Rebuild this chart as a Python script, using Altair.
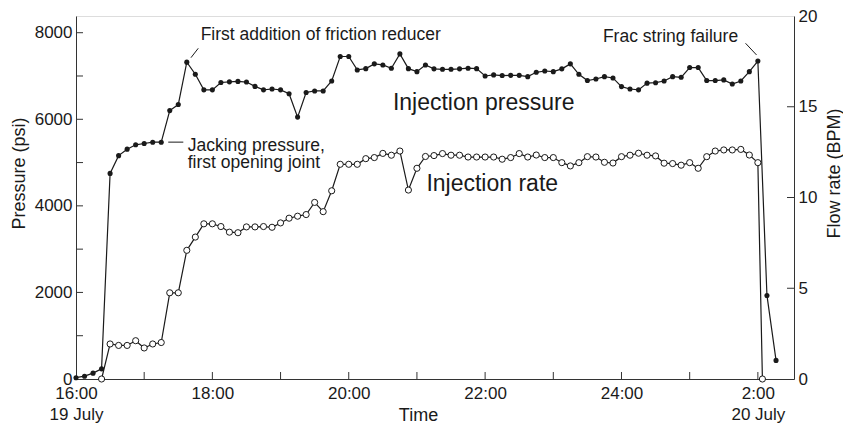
import altair as alt
import pandas as pd

# ---------------- data ----------------
# clock times of the samples (19 July 16:00 -> 20 July 02:16)
p_times = [
    "16:00", "16:07:30", "16:15", "16:22:30", "16:30", "16:37:30", "16:45", "16:52:30",
    "17:00", "17:07:30", "17:15", "17:22:30", "17:30", "17:37:30", "17:45", "17:52:30",
    "18:00", "18:07:30", "18:15", "18:22:30", "18:30", "18:37:30", "18:45", "18:52:30",
    "19:00", "19:07:30", "19:15", "19:22:30", "19:30", "19:37:30", "19:45", "19:52:30",
    "20:00", "20:07:30", "20:15", "20:22:30", "20:30", "20:37:30", "20:45", "20:52:30",
    "21:00", "21:07:30", "21:15", "21:22:30", "21:30", "21:37:30", "21:45", "21:52:30",
    "22:00", "22:07:30", "22:15", "22:22:30", "22:30", "22:37:30", "22:45", "22:52:30",
    "23:00", "23:07:30", "23:15", "23:22:30", "23:30", "23:37:30", "23:45", "23:52:30",
    "00:00", "00:07:30", "00:15", "00:22:30", "00:30", "00:37:30", "00:45", "00:52:30",
    "01:00", "01:07:30", "01:15", "01:22:30", "01:30", "01:37:30", "01:45", "01:52:30",
    "02:00", "02:08", "02:16",
]
# injection pressure (psi)
pressure = [
    30, 65, 135, 235, 4750, 5160, 5310, 5410,
    5440, 5470, 5470, 6200, 6340, 7320, 7040, 6680,
    6680, 6850, 6865, 6875, 6860, 6760, 6680, 6700,
    6680, 6590, 6050, 6620, 6655, 6655, 6885, 7450,
    7450, 7140, 7170, 7280, 7255, 7180, 7510, 7170,
    7100, 7255, 7165, 7155, 7155, 7165, 7180, 7170,
    7000, 7025, 7010, 7015, 7015, 6985, 7085, 7115,
    7100, 7165, 7280, 7040, 6895, 6930, 6985, 6955,
    6755, 6700, 6680, 6835, 6845, 6885, 6985, 6970,
    7195, 7195, 6895, 6895, 6910, 6815, 6885, 7100,
    7345, 1930, 430,
]
r_times = p_times[3:81] + ["02:04"]
# injection rate (BPM)
rate = [
    0, 1.93, 1.85, 1.85, 2.11,
    1.71, 1.93, 2.01, 4.75, 4.75, 7.09, 7.82, 8.55,
    8.55, 8.40, 8.09, 8.06, 8.38, 8.38, 8.40, 8.36,
    8.60, 8.86, 8.97, 9.06, 9.73, 9.22, 10.37, 11.83,
    11.83, 11.83, 12.14, 12.20, 12.43, 12.33, 12.56, 10.41,
    11.61, 12.26, 12.31, 12.42, 12.33, 12.33, 12.23, 12.23,
    12.23, 12.23, 12.11, 12.20, 12.42, 12.23, 12.34, 12.20,
    12.20, 11.92, 11.74, 11.92, 12.25, 12.23, 11.94, 11.90,
    12.25, 12.33, 12.44, 12.33, 12.29, 11.89, 11.87, 11.78,
    11.92, 11.61, 12.25, 12.56, 12.62, 12.62, 12.65, 12.34,
    11.92, 0,
]

x_tick_hours = [16, 17, 18, 19, 20, 21, 22, 23, 24, 25, 26]
left_tick_values = [0, 2000, 4000, 6000, 8000]
left_minor = [1000, 2000, 3000, 4000, 5000, 6000, 7000, 8000]
right_tick_values = [0, 5, 10, 15, 20]
right_minor = [5, 10, 15]

# annotations: text, clock time of anchor, pressure of anchor
ann_text = ["First addition of friction reducer", "Jacking pressure,", "first opening joint",
            "Frac string failure"]
ann_time = ["17:49:40", "17:38:20", "17:38:20", "23:43:40"]
ann_p = [7947, 5390, 4990, 7905]
big_text = ["Injection pressure", "Injection rate"]
big_time = ["20:38:50", "21:08:20"]
big_p = [6378, 4510]
lead_t1 = ["17:41:10", "17:21:10", "01:49:10"]
lead_t2 = ["17:47:35", "17:34:25", "01:58:50"]
lead_p1 = [7423, 5472, 7756]
lead_p2 = [7640, 5472, 7486]


def to_hours(t):
    parts = [int(v) for v in t.split(":")]
    h = parts[0] + parts[1] / 60 + (parts[2] / 3600 if len(parts) > 2 else 0)
    return h + 24 if h < 12 else h


p_df = pd.DataFrame({"hour": [to_hours(t) for t in p_times], "pressure": pressure})
r_df = pd.DataFrame({"hour": [to_hours(t) for t in r_times], "rate": rate})
ann_df = pd.DataFrame({"hour": [to_hours(t) for t in ann_time], "pressure": ann_p, "label": ann_text})
big_df = pd.DataFrame({"hour": [to_hours(t) for t in big_time], "pressure": big_p, "label": big_text})
lead_df = pd.DataFrame({
    "hour": [to_hours(t) for t in lead_t1], "hour2": [to_hours(t) for t in lead_t2],
    "pressure": lead_p1, "pressure2": lead_p2,
})
lt_df = pd.DataFrame({"pressure": left_minor})
rt_df = pd.DataFrame({"rate": right_minor})
bt_df = pd.DataFrame({"hour": x_tick_hours[1:]})

W, H = 718, 363
INK = "#1a1a1a"
FONT = "Liberation Sans"

x_scale = alt.Scale(domain=[16, 26.53], nice=False, zero=False)
x_axis = alt.Axis(
    values=x_tick_hours, ticks=False, grid=False, domainColor="#333", labelFlush=False,
    labelExpr=("datum.value == 16 ? ['16:00', '19 July'] : datum.value == 26 ? ['2:00', '20 July'] : "
               "(datum.value % 2 == 0 ? (datum.value > 24 ? datum.value - 24 : datum.value) + ':00' : '')"),
    labelFontSize=17, labelLineHeight=21, labelPadding=6, labelColor=INK, labelFont=FONT,
    title="Time", titleFontSize=18, titleFontWeight="normal", titleColor=INK, titleFont=FONT,
    titleX=342, titleY=36, titleAlign="center", titleBaseline="middle",
)
X = alt.X("hour:Q", scale=x_scale, axis=x_axis)

p_scale = alt.Scale(domain=[0, 8386], nice=False)
p_axis = alt.Axis(
    values=left_tick_values, ticks=False, grid=False, domainColor="#333", labelFlush=False, format="d",
    labelFontSize=17, labelPadding=4, labelColor=INK, labelFont=FONT,
    title="Pressure (psi)", titleFontSize=18, titleFontWeight="normal", titleColor=INK, titleFont=FONT,
    titleX=-57, titleY=157, titleAngle=270, titleAlign="center", titleBaseline="middle",
)
YP = alt.Y("pressure:Q", scale=p_scale, axis=p_axis)

r_scale = alt.Scale(domain=[0, 20], nice=False)
r_axis = alt.Axis(
    orient="right", values=right_tick_values, ticks=False, grid=False, domainColor="#333",
    labelFlush=False, format="d",
    labelFontSize=17, labelPadding=4, labelColor=INK, labelFont=FONT,
    title="Flow rate (BPM)", titleFontSize=18, titleFontWeight="normal", titleColor=INK, titleFont=FONT,
    titleX=40, titleY=157, titleAngle=270, titleAlign="center", titleBaseline="middle",
)
YR = alt.Y("rate:Q", scale=r_scale, axis=r_axis)

p_line = alt.Chart(p_df).mark_line(color=INK, strokeWidth=1.2).encode(x=X, y=YP)
p_pts = alt.Chart(p_df).mark_point(filled=True, color=INK, size=26, opacity=1).encode(x=X, y=YP)
left_ticks = alt.Chart(lt_df).mark_rule(color="#333").encode(y=YP, x=alt.value(0), x2=alt.value(7))
bottom_ticks = alt.Chart(bt_df).mark_rule(color="#333").encode(x=X, y=alt.value(H), y2=alt.value(H - 7))
leads = alt.Chart(lead_df).mark_rule(color=INK, strokeWidth=1).encode(
    x=X, x2="hour2:Q", y=YP, y2="pressure2:Q")
ann = alt.Chart(ann_df).mark_text(align="left", baseline="middle", fontSize=17.5, font=FONT, color=INK).encode(
    x=X, y=YP, text="label:N")
big = alt.Chart(big_df).mark_text(align="left", baseline="middle", fontSize=23, font=FONT, color=INK).encode(
    x=X, y=YP, text="label:N")

left_group = alt.layer(p_line, left_ticks, bottom_ticks, leads, ann, big, p_pts)

r_line = alt.Chart(r_df).mark_line(color=INK, strokeWidth=1.2).encode(x=X, y=YR)
r_pts = alt.Chart(r_df).mark_point(filled=True, fill="white", stroke=INK, strokeWidth=1, size=38,
                                   opacity=1).encode(x=X, y=YR)
right_ticks = alt.Chart(rt_df).mark_rule(color="#333").encode(y=YR, x=alt.value(W - 7), x2=alt.value(W))
right_group = alt.layer(r_line, right_ticks, r_pts)

chart = alt.layer(left_group, right_group).resolve_scale(y="independent").properties(
    width=W, height=H,
    padding={"left": 68, "top": 8, "right": 49, "bottom": 45},
    autosize=alt.AutoSizeParams(type="none"),
).configure_view(stroke="#333", strokeWidth=1).configure(background="white")

chart.save("out.html", embed_options={"renderer": "svg", "actions": False})
